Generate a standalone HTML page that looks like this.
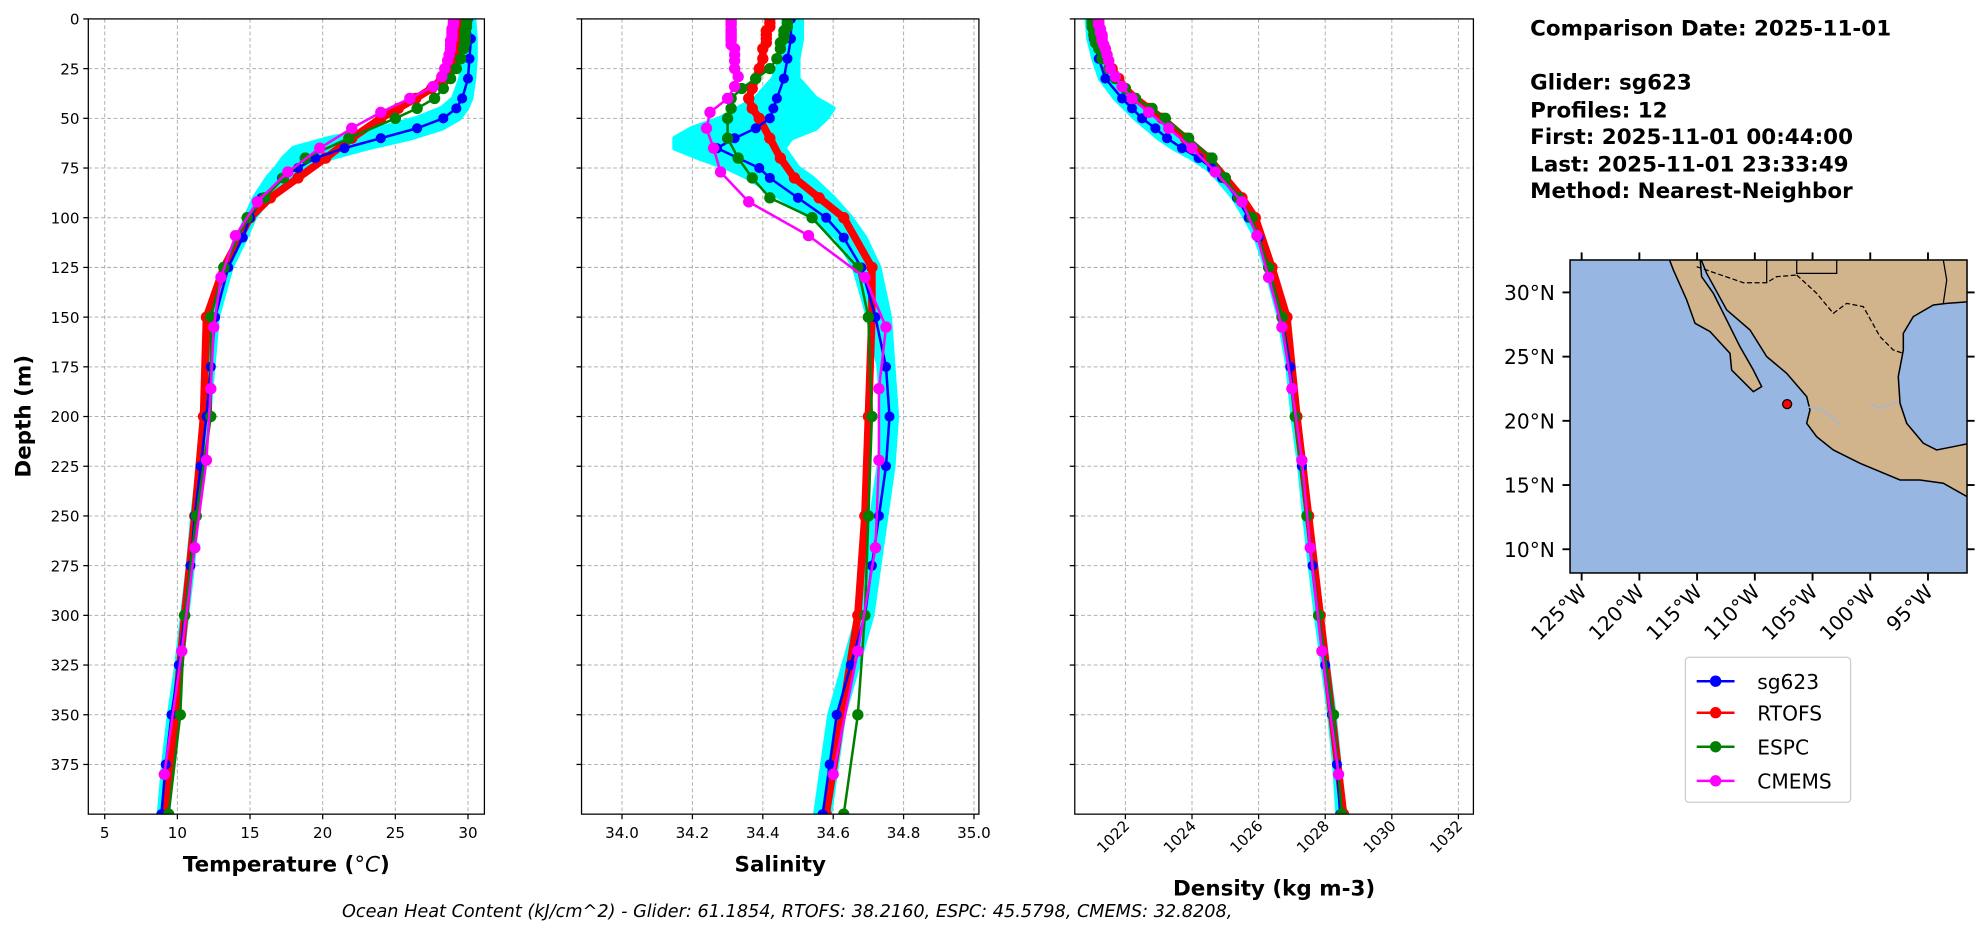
<!DOCTYPE html>
<html><head><meta charset="utf-8"><style>
html,body{margin:0;padding:0;background:#fff;}
svg{display:block;font-family:"DejaVu Sans","Liberation Sans",sans-serif;}
</style></head><body>
<svg id="fig" width="1978" height="934" viewBox="0 0 1568 740.4" xmlns="http://www.w3.org/2000/svg">
<rect width="1568" height="741" fill="#fff"/>
<g id="panels"></g>
<g id="mapg"></g>
<g font-weight="bold" font-size="17" fill="#000">
<text x="1213" y="28">Comparison Date: 2025-11-01</text>
<text x="1213" y="71">Glider: sg623</text>
<text x="1213" y="93">Profiles: 12</text>
<text x="1213" y="114">First: 2025-11-01 00:44:00</text>
<text x="1213" y="136">Last: 2025-11-01 23:33:49</text>
<text x="1213" y="157">Method: Nearest-Neighbor</text>
</g>
<g>
<rect x="1336" y="521" width="131" height="115" rx="3" fill="#fff" stroke="#ccc"/>
<g><line x1="1345" y1="540" x2="1375" y2="540" stroke="#0000ff" stroke-width="2"/><circle cx="1360" cy="540" r="4.5" fill="#0000ff"/><text x="1393" y="546" font-size="16">sg623</text></g>
<g><line x1="1345" y1="565" x2="1375" y2="565" stroke="#ff0000" stroke-width="2"/><circle cx="1360" cy="565" r="4.5" fill="#ff0000"/><text x="1393" y="571" font-size="16">RTOFS</text></g>
<g><line x1="1345" y1="592" x2="1375" y2="592" stroke="#008000" stroke-width="2"/><circle cx="1360" cy="592" r="4.5" fill="#008000"/><text x="1393" y="598" font-size="16">ESPC</text></g>
<g><line x1="1345" y1="619" x2="1375" y2="619" stroke="#ff00ff" stroke-width="2"/><circle cx="1360" cy="619" r="4.5" fill="#ff00ff"/><text x="1393" y="625" font-size="16">CMEMS</text></g>
</g>
<text x="624" y="727" text-anchor="middle" font-size="14" font-style="italic">Ocean Heat Content (kJ/cm^2) - Glider: 61.1854,  RTOFS: 38.2160,  ESPC: 45.5798,  CMEMS: 32.8208,</text>
</svg>
<script>
// ---- data ----
const gDepth=[0,10,20,30,40,45,50,55,60,65,70,75,80,90,100,110,125,150,175,200,225,250,275,300,325,350,375,400];
const gTemp=[30,30.2,30.1,30,29.6,29.2,28.3,26.5,24,21.5,19.5,18.3,17.2,15.8,15,14.5,13.5,12.6,12.3,12,11.6,11.2,10.9,10.5,10.1,9.6,9.2,8.9];
const gTempMin=[29.7,29.8,29.7,29.5,29,28.2,26.5,24,20.5,18,17.3,16.8,16.2,15.3,14.7,14.2,13.3,12.45,12.15,11.85,11.45,11.05,10.75,10.35,9.95,9.45,9.05,8.75];
const gTempMax=[30.4,30.5,30.5,30.4,30.2,29.9,29.4,28.2,26,23,20.5,19.2,18,16.3,15.3,14.7,13.7,12.75,12.45,12.15,11.75,11.35,11.05,10.65,10.25,9.75,9.35,9.05];
const gSal=[34.48,34.48,34.47,34.46,34.44,34.43,34.42,34.38,34.32,34.27,34.33,34.39,34.42,34.5,34.58,34.63,34.68,34.72,34.75,34.76,34.75,34.73,34.71,34.69,34.65,34.61,34.59,34.57];
const gSalMin=[34.46,34.46,34.45,34.43,34.38,34.33,34.28,34.2,34.15,34.15,34.22,34.3,34.36,34.45,34.54,34.61,34.66,34.7,34.73,34.74,34.73,34.71,34.69,34.67,34.63,34.59,34.57,34.55];
const gSalMax=[34.51,34.51,34.5,34.5,34.55,34.6,34.58,34.55,34.48,34.46,34.48,34.5,34.54,34.6,34.65,34.69,34.73,34.76,34.77,34.78,34.77,34.75,34.73,34.71,34.67,34.63,34.61,34.59];
const gDens=[1021,1021.05,1021.2,1021.4,1021.9,1022.2,1022.5,1022.9,1023.25,1023.7,1024.2,1024.6,1024.9,1025.35,1025.7,1026,1026.3,1026.7,1026.95,1027.1,1027.3,1027.45,1027.62,1027.8,1028,1028.2,1028.35,1028.45];
const gDensMin=[1020.85,1020.9,1021.05,1021.25,1021.7,1022,1022.3,1022.65,1023,1023.45,1024,1024.45,1024.75,1025.25,1025.6,1025.92,1026.22,1026.62,1026.88,1027.03,1027.23,1027.38,1027.55,1027.73,1027.93,1028.13,1028.28,1028.38];
const gDensMax=[1021.15,1021.2,1021.35,1021.55,1022.1,1022.45,1022.8,1023.2,1023.6,1024,1024.45,1024.8,1025.05,1025.45,1025.8,1026.08,1026.38,1026.78,1027.02,1027.17,1027.37,1027.52,1027.69,1027.87,1028.07,1028.27,1028.42,1028.52];
const rDepth=[0,2,4,6,8,10,12,15,20,25,30,35,40,45,50,60,70,80,90,100,125,150,200,250,300,400];
const rTemp=[29.6,29.6,29.6,29.5,29.5,29.4,29.4,29.3,29.1,28.8,28.2,27.5,26.4,25.2,24,22,20.2,18.3,16.4,15,13.2,12,11.8,11.2,10.5,9.2];
const rSal=[34.42,34.42,34.42,34.41,34.41,34.41,34.41,34.4,34.4,34.39,34.38,34.37,34.36,34.37,34.39,34.42,34.45,34.49,34.56,34.63,34.71,34.71,34.7,34.69,34.67,34.58];
const rDens=[1021.1,1021.1,1021.1,1021.15,1021.15,1021.2,1021.2,1021.3,1021.4,1021.6,1021.8,1022,1022.3,1022.7,1023.1,1023.8,1024.5,1025,1025.5,1025.9,1026.4,1026.85,1027.15,1027.5,1027.85,1028.55];
const eDepth=[0,2,4,6,8,10,12,15,20,25,30,35,40,45,50,60,70,80,90,100,125,150,200,250,300,350,400];
const eTemp=[29.9,29.9,29.9,29.8,29.8,29.8,29.8,29.7,29.5,29.2,28.8,28.3,27.7,26.5,25,21.8,18.8,17.3,16,14.8,13.2,12.3,12.3,11.3,10.5,10.2,9.4];
const eSal=[34.47,34.47,34.47,34.46,34.46,34.46,34.45,34.45,34.44,34.42,34.38,34.34,34.31,34.31,34.3,34.3,34.33,34.37,34.42,34.54,34.67,34.7,34.71,34.7,34.69,34.67,34.63];
const eDens=[1021,1021,1021,1021.05,1021.05,1021.1,1021.1,1021.2,1021.3,1021.5,1021.7,1022,1022.3,1022.8,1023.2,1023.9,1024.6,1025,1025.4,1025.8,1026.3,1026.7,1027.1,1027.45,1027.8,1028.25,1028.5];
const cDepth=[0,1,2,3,5,6,7,8,9,10,11,13,15,18,21,25,29,34,40,47,55,65,77,92,109,130,155,186,222,266,318,380];
const cTemp=[29,29,29,29,28.9,28.9,28.9,28.9,28.9,28.9,28.8,28.8,28.8,28.7,28.6,28.4,28.2,27.6,26,24,22,19.8,17.6,15.5,14,13,12.5,12.3,12,11.2,10.3,9.1];
const cSal=[34.31,34.31,34.31,34.31,34.31,34.31,34.31,34.31,34.31,34.31,34.31,34.31,34.32,34.32,34.32,34.32,34.33,34.32,34.3,34.25,34.24,34.26,34.28,34.36,34.53,34.69,34.75,34.73,34.73,34.72,34.67,34.6];
const cDens=[1021.2,1021.2,1021.2,1021.2,1021.25,1021.25,1021.25,1021.3,1021.3,1021.3,1021.3,1021.35,1021.4,1021.45,1021.5,1021.55,1021.7,1021.9,1022.2,1022.7,1023.3,1024,1024.7,1025.5,1025.95,1026.3,1026.7,1027,1027.3,1027.55,1027.9,1028.4];
const depthTicks=[0,25,50,75,100,125,150,175,200,225,250,275,300,325,350,375];
const tempTicks=[5,10,15,20,25,30];
const salTicks=[34.0,34.2,34.4,34.6,34.8,35.0];
const densTicks=[1022,1024,1026,1028,1030,1032];
const latTicks=[30,25,20,15,10];
const lonTicks=[-125,-120,-115,-110,-105,-100,-95];
const gliderPos=[-107.2,21.3];

const NS='http://www.w3.org/2000/svg';
function el(tag,attrs,parent){const e=document.createElementNS(NS,tag);for(const k in attrs)e.setAttribute(k,attrs[k]);parent.appendChild(e);return e;}
const TOP=15,BOT=645.4;
const yD=d=>TOP+d*1.576;
const panels=document.getElementById('panels');

function makePanel(name,L,R,xmin,xmax,ticks,tickFmt,label,rot,showY,series,cloud){
  const g=el('g',{},panels);
  
  
  const xS=v=>L+(v-xmin)/(xmax-xmin)*(R-L);
  const cp='clip-'+name;
  const defs=el('defs',{},g);const c=el('clipPath',{id:cp},defs);el('rect',{x:L,y:TOP,width:R-L,height:BOT-TOP},c);
  depthTicks.forEach(d=>{const l=el('line',{x1:L,x2:R,y1:yD(d),y2:yD(d),stroke:'#b0b0b0','stroke-width':0.8,'stroke-dasharray':'3,2'},g);});
  ticks.forEach(t=>{const l=el('line',{x1:xS(t),x2:xS(t),y1:TOP,y2:BOT,stroke:'#b0b0b0','stroke-width':0.8,'stroke-dasharray':'3,2'},g);});
  const pg=el('g',{'clip-path':'url(#'+cp+')'},g);
  const [cMin,cMax]=cloud;
  let pts=gDepth.map((d,i)=>xS(cMin[i])+','+yD(d)).concat(gDepth.map((d,i)=>xS(cMax[i])+','+yD(d)).reverse());
  const cl=el('polygon',{points:pts.join(' '),fill:'#00ffff',stroke:'#00ffff','stroke-width':4,'stroke-linejoin':'round'},pg);
  
  
  series.forEach(s=>{
    const sg=el('g',{},pg);
    
    
    el('polyline',{points:s.d.map((d,i)=>xS(s.v[i])+','+yD(d)).join(' '),fill:'none',stroke:s.col,'stroke-width':s.w,'stroke-linejoin':'round'},sg);
    s.d.forEach((d,i)=>{const p=el('circle',{cx:xS(s.v[i]),cy:yD(d),r:s.r,fill:s.col},sg);});
  });
  el('rect',{x:L,y:TOP,width:R-L,height:BOT-TOP,fill:'none',stroke:'#000','stroke-width':1},g);
  depthTicks.forEach(d=>{el('line',{x1:L-4,x2:L,y1:yD(d),y2:yD(d),stroke:'#000'},g);
    if(showY){const t=el('text',{x:L-7,y:yD(d)+4.5,'text-anchor':'end','font-size':12},g);t.textContent=d;}});
  ticks.forEach(v=>{const x=xS(v);el('line',{x1:x,x2:x,y1:BOT,y2:BOT+4,stroke:'#000'},g);
    let t;
    if(rot){t=el('text',{x:x+4,y:BOT+10,'text-anchor':'end','font-size':12,transform:'rotate(-45 '+(x+4)+' '+(BOT+10)+')'},g);}
    else t=el('text',{x:x,y:BOT+19,'text-anchor':'middle','font-size':12},g);
    t.textContent=tickFmt(v);});
  const xl=el('text',{x:(L+R)/2,y:rot?710:691,'text-anchor':'middle','font-size':17,'font-weight':'bold'},g);
  xl.innerHTML=label;
}
const SER=(gv,rv,ev,cv)=>[
 {name:'rtofs',d:rDepth,v:rv,col:'#ff0000',w:6,r:4.5},
 {name:'sg623',d:gDepth,v:gv,col:'#0000ff',w:2,r:4},
 {name:'espc',d:eDepth,v:ev,col:'#008000',w:2,r:4.5},
 {name:'cmems',d:cDepth,v:cv,col:'#ff00ff',w:2,r:4.5}];
makePanel('temperature',70,384,3.87,31.13,tempTicks,v=>v,'Temperature (<tspan font-style="italic" font-weight="normal">°C</tspan>)',false,true,SER(gTemp,rTemp,eTemp,cTemp),[gTempMin,gTempMax]);
makePanel('salinity',461,776,33.885,35.014,salTicks,v=>v.toFixed(1),'Salinity',false,false,SER(gSal,rSal,eSal,cSal),[gSalMin,gSalMax]);
makePanel('density',852,1168,1020.48,1032.45,densTicks,v=>v,'Density (kg m-3)',true,false,SER(gDens,rDens,eDens,cDens),[gDensMin,gDensMax]);
const yl=el('text',{x:24,y:330,'text-anchor':'middle','font-size':17,'font-weight':'bold',transform:'rotate(-90 24 330)'},panels);
yl.textContent='Depth (m)';

// ---- map ----
const mg=document.getElementById('mapg');
const ML=1244.6,MR=1559.3,MT=206.1,MB=454.2;
const lonX=lon=>1253.8+(lon+125)*9.152;
const latY=lat=>435.4-(lat-10)*10.18;
const mcp=el('clipPath',{id:'mapclip'},el('defs',{},mg));el('rect',{x:ML,y:MT,width:MR-ML,height:MB-MT},mcp);
el('rect',{x:ML,y:MT,width:MR-ML,height:MB-MT,fill:'#97b6e1'},mg);
const mc=el('g',{'clip-path':'url(#mapclip)'},mg);
const Z=(a)=>a.map(p=>((1540+p[0]/3)/1.26148).toFixed(1)+','+((250+p[1]/3)/1.26148).toFixed(1)).join(' ');
const mainland=[[480,20],[500,70],[560,180],[630,240],[680,320],[740,370],[800,440],[810,480],[800,520],[830,560],[880,600],[960,640],[1080,690],[1140,690],[1210,700],[1290,745],[1290,580],[1240,590],[1190,600],[1150,580],[1100,520],[1080,460],[1075,380],[1090,300],[1090,250],[1120,200],[1180,165],[1220,160],[1290,155],[1290,20]];
const baja=[[385,20],[400,60],[440,150],[465,220],[510,245],[570,310],[575,360],[640,425],[665,410],[640,360],[600,290],[560,210],[520,130],[485,80],[480,20]];
const ml=el('polygon',{points:Z(mainland),fill:'#d2b48c',stroke:'#000','stroke-width':1.2},mc);
const bj=el('polygon',{points:Z(baja),fill:'#d2b48c',stroke:'#000','stroke-width':1.2},mc);
el('polyline',{points:Z([[470,50],[610,98],[680,98],[710,80],[770,75]]),fill:'none',stroke:'#000','stroke-width':1,'stroke-dasharray':'4,2'},mc);
el('polyline',{points:Z([[770,75],[830,130],[880,190],[920,160],[970,170],[1020,260],[1060,300],[1090,310]]),fill:'none',stroke:'#000','stroke-width':1,'stroke-dasharray':'4,2'},mc);
el('polyline',{points:Z([[680,30],[680,98]]),fill:'none',stroke:'#000','stroke-width':1},mc);
el('polyline',{points:Z([[770,30],[770,70],[890,70],[890,30]]),fill:'none',stroke:'#000','stroke-width':1},mc);
el('polyline',{points:Z([[1210,30],[1220,90],[1210,160]]),fill:'none',stroke:'#000','stroke-width':1},mc);
el('polyline',{points:Z([[800,470],[850,480],[900,525]]),fill:'none',stroke:'#9ab8e0','stroke-width':1},mc);
el('polyline',{points:Z([[990,460],[1020,475],[1075,455]]),fill:'none',stroke:'#9ab8e0','stroke-width':1},mc);
const gd=el('circle',{cx:lonX(gliderPos[0]),cy:latY(gliderPos[1]),r:3.6,fill:'#ff0000',stroke:'#000','stroke-width':1},mc);

el('rect',{x:ML,y:MT,width:MR-ML,height:MB-MT,fill:'none',stroke:'#000','stroke-width':1.2},mg);
latTicks.forEach(l=>{const y=latY(l);el('line',{x1:ML-6,x2:ML,y1:y,y2:y,stroke:'#000','stroke-width':1.5},mg);el('line',{x1:MR,x2:MR+6,y1:y,y2:y,stroke:'#000','stroke-width':1.5},mg);
 const t=el('text',{x:ML-12,y:y+6,'text-anchor':'end','font-size':16},mg);t.textContent=l+'°N';});
lonTicks.forEach(l=>{const x=lonX(l);el('line',{x1:x,x2:x,y1:MB,y2:MB+6,stroke:'#000','stroke-width':1.5},mg);el('line',{x1:x,x2:x,y1:MT-6,y2:MT,stroke:'#000','stroke-width':1.5},mg);
 const t=el('text',{x:x+5,y:MB+16,'text-anchor':'end','font-size':16,transform:'rotate(-45 '+(x+5)+' '+(MB+16)+')'},mg);t.textContent=(-l)+'°W';});
</script>
</body></html>
